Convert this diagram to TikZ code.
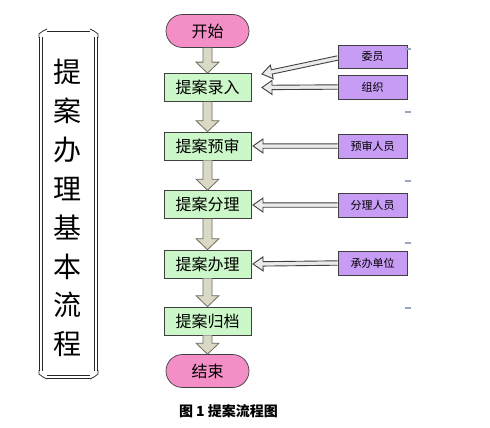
\documentclass[tikz,border=0pt]{standalone}
\usepackage{fontspec}
\newfontfamily\cjk{Noto Sans CJK SC}
\usetikzlibrary{calc}
\definecolor{pinkfill}{HTML}{F48EC6}
\definecolor{greenfill}{HTML}{CCF7C8}
\definecolor{purplefill}{HTML}{C79CF5}
\definecolor{blkfill}{HTML}{D9D9C6}
\definecolor{blkline}{HTML}{6E6E60}
\definecolor{edge}{HTML}{404040}
\definecolor{markcol}{HTML}{98A6C0}
\tikzset{
  pill/.style={draw=edge, line width=0.7pt, fill=pinkfill, rounded corners=16.5pt,
    minimum width=83pt, minimum height=33pt, inner sep=0pt, font=\cjk\fontsize{16}{16}\selectfont},
  stepbox/.style={draw=edge, line width=0.7pt, fill=greenfill, minimum width=87pt,
    minimum height=28pt, inner sep=0pt, font=\cjk\fontsize{16}{16}\selectfont},
  actor/.style={draw=edge, line width=0.7pt, fill=purplefill, minimum width=69pt,
    minimum height=24pt, inner sep=0pt, font=\cjk\fontsize{11}{11}\selectfont},
  blk/.style={draw=blkline, line width=0.8pt, fill=blkfill, line join=miter},
  hollow/.style={draw=edge, line width=0.9pt, fill=white!92!black, line join=miter},
  frameline/.style={draw=black!85, double=white, double distance=2pt, line width=0.8pt},
  smallmark/.style={draw=markcol, line width=1.3pt}
}
\newcommand\blockarrow[2]{%
  \draw[blk] ($(#1.south)+(-4.5,0)$) -- ($(#2.north)+(-4.5,-11)$) -- ($(#2.north)+(-11.5,-11)$)
    -- (#2.north) -- ($(#2.north)+(11.5,-11)$) -- ($(#2.north)+(4.5,-11)$) -- ($(#1.south)+(4.5,0)$);
}
\newcommand\hollowarrow[2]{%
  \coordinate (hb) at ($(#2)!10pt!(#1)$);
  \draw[hollow] ($(#1)!2.2pt!90:(#2)$) -- ($(hb)!2.2pt!90:(#2)$) -- ($(hb)!7pt!90:(#2)$)
    -- (#2) -- ($(hb)!7pt!-90:(#2)$) -- ($(hb)!2.2pt!-90:(#2)$) -- ($(#1)!2.2pt!-90:(#2)$);
}
\begin{document}
\begin{tikzpicture}[x=1pt, y=-1pt]
\useasboundingbox[fill=white] (0,0) rectangle (490,428);

% left scroll frame
\draw[frameline] (41,37) -- (41,371);
\draw[frameline] (96,37) -- (96,371);
\draw[frameline] (47,30.5) -- (90,30.5);
\draw[frameline] (47,377) -- (90,377);
\draw[black!85, line width=0.7pt] (39,38) -- (39,34) -- (43,31) -- (47,29);
\draw[black!85, line width=0.7pt] (98,38) -- (98,34) -- (94,31) -- (90,29);
\draw[black!85, line width=0.7pt] (39,370) -- (39,374) -- (43,377) -- (47,379);
\draw[black!85, line width=0.7pt] (98,370) -- (98,374) -- (94,377) -- (90,379);
\node[font=\cjk\fontsize{28}{38.9}\selectfont, align=center, inner sep=0pt] (title) at (67.5,208)
  {提\\案\\办\\理\\基\\本\\流\\程};

% main flow
\node[pill] (start) at (207.5,31) {开始};
\node[stepbox] (luru) at (207.5,87.5) {提案录入};
\node[stepbox] (yushen) at (207.5,146) {提案预审};
\node[stepbox] (fenli) at (207.5,204.5) {提案分理};
\node[stepbox] (banli) at (207.5,264) {提案办理};
\node[stepbox] (guidang) at (207.5,321) {提案归档};
\node[pill] (end) at (207.5,371) {结束};

\blockarrow{start}{luru}
\blockarrow{luru}{yushen}
\blockarrow{yushen}{fenli}
\blockarrow{fenli}{banli}
\blockarrow{banli}{guidang}
\blockarrow{guidang}{end}

% participants
\node[actor, minimum height=23pt] (weiyuan) at (372.5,56.5) {委员};
\node[actor] (zuzhi) at (372.5,87) {组织};
\node[actor] (ysry) at (372.5,146) {预审人员};
\node[actor] (flry) at (372.5,205) {分理人员};
\node[actor] (cbdw) at (372.5,263) {承办单位};

\coordinate (t1) at (262,74);
\coordinate (t2) at (262,87.5);
\coordinate (t3) at (253,146);
\coordinate (t4) at (253,205);
\coordinate (t5) at (253,264);
\coordinate (s1) at ($(weiyuan.west)+(0,1.5)$);
\hollowarrow{s1}{t1}
\hollowarrow{zuzhi.west}{t2}
\hollowarrow{ysry.west}{t3}
\hollowarrow{flry.west}{t4}
\hollowarrow{cbdw.west}{t5}

% small marks
\foreach \yy in {49,112,181,243,308} \draw[smallmark] (405,\yy) -- (411,\yy);

% caption
\node[font=\cjk\bfseries\fontsize{14}{14}\selectfont, inner sep=0pt] (caption) at (228.5,411) {图 1 提案流程图};
\end{tikzpicture}
\end{document}
